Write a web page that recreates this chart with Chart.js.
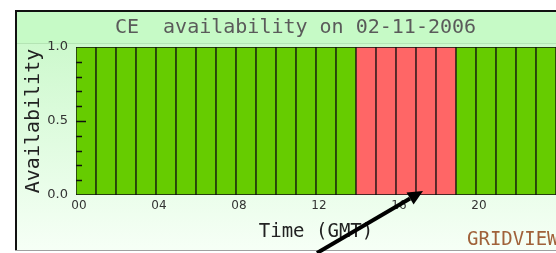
<!DOCTYPE html>
<html>
<head>
<meta charset="utf-8">
<script src="https://cdn.jsdelivr.net/npm/chart.js@4/dist/chart.umd.min.js"></script>
<style>
  html, body { margin: 0; padding: 0; background: #ffffff; }
  canvas { display: block; }
</style>
</head>
<body>
<canvas id="c" width="556" height="253"></canvas>
<script>
// ---- data ----
const hours = ['00','01','02','03','04','05','06','07','08','09','10','11',
               '12','13','14','15','16','17','18','19','20','21','22','23'];
const availability = [1,1,1,1,1,1,1,1,1,1,1,1,1,1,1,1,1,1,1,1,1,1,1,1];
const status = ['ok','ok','ok','ok','ok','ok','ok','ok','ok','ok','ok','ok',
                'ok','ok','fail','fail','fail','fail','fail','ok','ok','ok','ok','ok'];
const yTicks = [0, 0.5, 1.0];
const titleText = 'CE  availability on 02-11-2006';
const xTitle = 'Time (GMT)';
const yTitle = 'Availability';
const brandText = 'GRIDVIEW';

const statusColor = { ok: '#66cc00', fail: '#ff6666' };
const MONO = '"DejaVu Sans Mono", "Liberation Mono", monospace';
const SANS = '"DejaVu Sans", "Liberation Sans", sans-serif';

const framePlugin = {
  id: 'frame',
  afterLayout(chart) {
    // centre the title over the full framed box (which extends past the canvas)
    if (chart.titleBlock) { chart.titleBlock.left = 15; chart.titleBlock.right = 576; }
  },
  beforeDraw(chart) {
    const ctx = chart.ctx, W = chart.width, H = chart.height;
    ctx.save();
    ctx.fillStyle = '#ffffff';
    ctx.fillRect(0, 0, W, H);
    const g = ctx.createLinearGradient(0, 44, 0, 250);
    g.addColorStop(0, '#cdf9cd');
    g.addColorStop(1, '#f6fff6');
    ctx.fillStyle = g;
    ctx.fillRect(16, 44, W - 16, 206);
    ctx.fillStyle = '#c6fac6';
    ctx.fillRect(16, 11, W - 16, 33);
    ctx.fillStyle = '#b4e4b4';
    ctx.fillRect(16, 43, W - 16, 1);
    ctx.fillStyle = '#111111';
    ctx.fillRect(15, 10, W - 15, 2);
    ctx.fillRect(15, 10, 2, 241);
    ctx.fillStyle = '#a0a0a0';
    ctx.fillRect(15, 250, W - 15, 1);
    ctx.restore();
  },
  afterDatasetsDraw(chart) {
    const ctx = chart.ctx, y = chart.scales.y, area = chart.chartArea;
    ctx.save();
    ctx.strokeStyle = '#111111';
    ctx.lineWidth = 1.5;
    for (let i = 1; i < 10; i++) {
      const v = i / 10;
      const py = Math.round(y.getPixelForValue(v)) + 0.5;
      const len = (i === 5) ? 10 : 6;
      ctx.beginPath();
      ctx.moveTo(area.left, py);
      ctx.lineTo(area.left + len, py);
      ctx.stroke();
    }
    ctx.restore();
  },
  afterDraw(chart) {
    const ctx = chart.ctx, x = chart.scales.x, y = chart.scales.y;
    ctx.save();
    ctx.fillStyle = '#a0623a';
    ctx.font = '19px ' + MONO;
    ctx.textBaseline = 'middle';
    ctx.textAlign = 'left';
    ctx.fillText(brandText, 467, 240);
    const tipX = x.getPixelForValue(17) - 3;
    const tipY = y.getPixelForValue(0) - 4;
    const tailX = tipX - 106, tailY = tipY + 62;
    const ang = Math.atan2(tipY - tailY, tipX - tailX);
    const headLen = 15, headW = 7;
    const bx = tipX - headLen * Math.cos(ang), by = tipY - headLen * Math.sin(ang);
    ctx.strokeStyle = '#000000';
    ctx.fillStyle = '#000000';
    ctx.lineWidth = 4;
    ctx.beginPath();
    ctx.moveTo(tailX, tailY);
    ctx.lineTo(bx, by);
    ctx.stroke();
    ctx.beginPath();
    ctx.moveTo(tipX, tipY);
    ctx.lineTo(bx + headW * Math.sin(ang), by - headW * Math.cos(ang));
    ctx.lineTo(bx - headW * Math.sin(ang), by + headW * Math.cos(ang));
    ctx.closePath();
    ctx.fill();
    ctx.restore();
  }
};

new Chart(document.getElementById('c'), {
  type: 'bar',
  data: {
    labels: hours,
    datasets: [{
      data: availability,
      backgroundColor: status.map(s => statusColor[s]),
      borderColor: '#111111',
      borderWidth: 1,
      borderSkipped: false,
      barPercentage: 1.0,
      categoryPercentage: 1.0
    }]
  },
  options: {
    responsive: false,
    animation: false,
    layout: { padding: 0 },
    plugins: {
      legend: { display: false },
      tooltip: { enabled: false },
      title: {
        display: true,
        text: titleText,
        color: '#5a5a5a',
        font: { family: MONO, size: 20, weight: 'normal', lineHeight: 1.2 },
        padding: { top: 16, bottom: 7 }
      }
    },
    scales: {
      x: {
        grid: { display: false, drawTicks: false },
        border: { display: false },
        ticks: {
          autoSkip: false,
          maxRotation: 0,
          minRotation: 0,
          padding: 4,
          labelOffset: -7,
          color: '#333333',
          font: { family: SANS, size: 12 },
          callback: (v, i) => (i % 4 === 0 ? hours[i] : '')
        },
        title: {
          display: true,
          text: xTitle,
          color: '#222222',
          font: { family: MONO, size: 19, lineHeight: 1.2 },
          padding: { top: 0, bottom: 10 }
        },
        afterFit: s => { s.height = 58; }
      },
      y: {
        min: 0,
        max: 1,
        afterBuildTicks: s => { s.ticks = yTicks.map(v => ({ value: v })); },
        grid: { display: false, drawTicks: false },
        border: { display: false },
        ticks: {
          padding: 8,
          color: '#333333',
          font: { family: SANS, size: 13 },
          callback: v => Number(v).toFixed(1)
        },
        title: {
          display: true,
          text: yTitle,
          color: '#222222',
          font: { family: MONO, size: 20, lineHeight: 1.2 },
          padding: { top: 22, bottom: 0 }
        },
        afterFit: s => { s.width = 76; }
      }
    }
  },
  plugins: [framePlugin]
});
</script>
</body>
</html>
